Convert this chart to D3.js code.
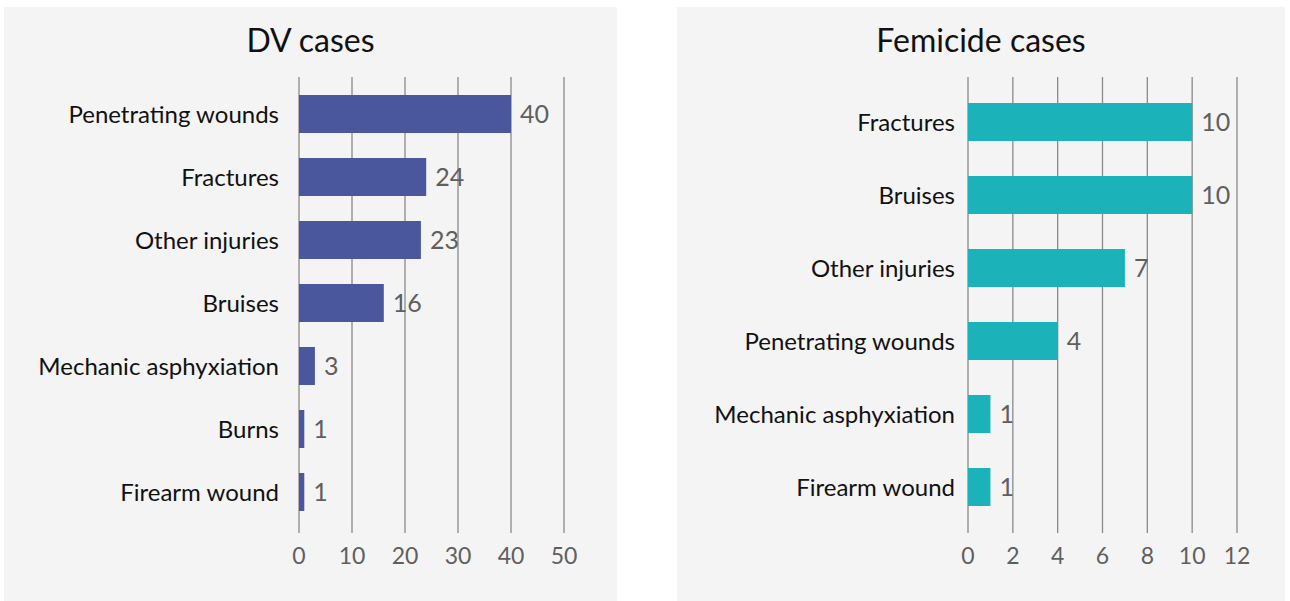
<html>
<head>
<script src="https://cdn.jsdelivr.net/npm/d3@7"></script>
<style>
  body { margin: 0; background: #fff; }
  text { font-family: Lato, "Open Sans", sans-serif; }
</style>
</head>
<body>
<script>
// DV cases
var dvCategories = ["Penetrating wounds", "Fractures", "Other injuries", "Bruises", "Mechanic asphyxiation", "Burns", "Firearm wound"];
var dvValues = [40, 24, 23, 16, 3, 1, 1];
var dvTicks = [0, 10, 20, 30, 40, 50];

// Femicide cases
var femCategories = ["Fractures", "Bruises", "Other injuries", "Penetrating wounds", "Mechanic asphyxiation", "Firearm wound"];
var femValues = [10, 10, 7, 4, 1, 1];
var femTicks = [0, 2, 4, 6, 8, 10, 12];

var svg = d3.select("body").append("svg")
  .attr("width", 1290)
  .attr("height", 601);

function panel(opts) {
  var g = svg.append("g");
  g.append("rect")
    .attr("x", opts.px).attr("y", 7)
    .attr("width", opts.pw).attr("height", 594)
    .attr("fill", "#f4f4f4");

  g.append("text")
    .attr("x", opts.px + opts.pw / 2)
    .attr("y", 52)
    .attr("text-anchor", "middle")
    .attr("font-size", 32)
    .attr("fill", "#111")
    .text(opts.title);

  var x = d3.scaleLinear().domain([0, opts.max]).range([opts.x0, opts.x1]);
  var y = d3.scaleBand().domain(opts.cats).range([opts.y0, opts.y1])
    .paddingInner(opts.pad).paddingOuter(opts.pad / 2);

  // gridlines
  g.selectAll("line.grid")
    .data(opts.ticks)
    .enter().append("line")
    .attr("x1", function(d) { return x(d); })
    .attr("x2", function(d) { return x(d); })
    .attr("y1", 77).attr("y2", 533)
    .attr("stroke", "#8a8a8a")
    .attr("stroke-width", 1.3);

  // tick labels
  g.selectAll("text.tick")
    .data(opts.ticks)
    .enter().append("text")
    .attr("x", function(d) { return x(d); })
    .attr("y", 564)
    .attr("text-anchor", "middle")
    .attr("font-size", 23)
    .attr("fill", "#5f5f5f")
    .text(function(d) { return d; });

  g.selectAll("rect.bar")
    .data(opts.vals)
    .enter().append("rect")
    .attr("x", x(0))
    .attr("y", function(d, i) { return y(opts.cats[i]); })
    .attr("width", function(d) { return x(d) - x(0); })
    .attr("height", y.bandwidth())
    .attr("fill", opts.color);

  g.selectAll("text.val")
    .data(opts.vals)
    .enter().append("text")
    .attr("x", function(d) { return x(d) + 9; })
    .attr("y", function(d, i) { return y(opts.cats[i]) + y.bandwidth() / 2; })
    .attr("dy", "0.36em")
    .attr("font-size", 25)
    .attr("fill", "#5f5f5f")
    .text(function(d) { return d; });

  g.selectAll("text.cat")
    .data(opts.cats)
    .enter().append("text")
    .attr("x", opts.labelX)
    .attr("y", function(d) { return y(d) + y.bandwidth() / 2; })
    .attr("dy", "0.36em")
    .attr("text-anchor", "end")
    .attr("font-size", 24)
    .attr("fill", "#111")
    .text(function(d) { return d; });
}

panel({ px: 4, pw: 613, title: "DV cases", cats: dvCategories, vals: dvValues, ticks: dvTicks,
  max: 50, x0: 299, x1: 564, y0: 82.5, y1: 523.5, pad: 0.397, labelX: 279, color: "#4b579c" });
panel({ px: 677, pw: 608, title: "Femicide cases", cats: femCategories, vals: femValues, ticks: femTicks,
  max: 12, x0: 968, x1: 1237, y0: 85.5, y1: 523.5, pad: 0.48, labelX: 955, color: "#1bb2b9" });
</script>
</body>
</html>
